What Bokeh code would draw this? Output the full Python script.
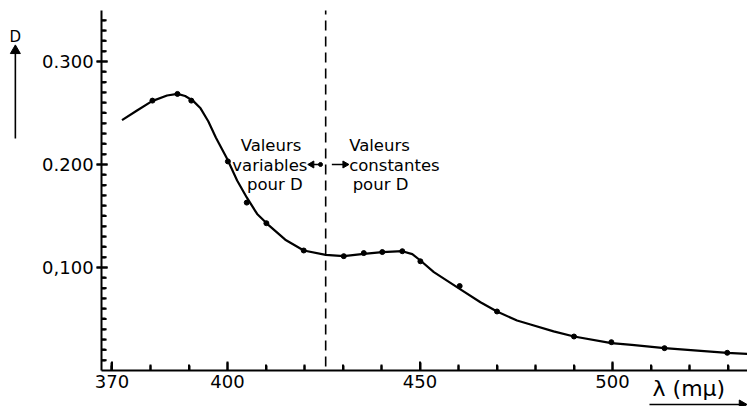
import math
from bokeh.plotting import figure
from bokeh.models import ColumnDataSource, Range1d, FixedTicker, Label
from bokeh.embed import file_html
from bokeh.resources import INLINE

# Absorption spectrum: optical density D versus wavelength (mμ)
curve_wl = [372.6, 376.5, 380.4, 384.3, 387.0, 389.0, 391.0, 393.0, 395.0,
            397.0, 399.9, 402.5, 405.0, 407.7, 410.3, 415.0, 419.8, 425.5,
            430.2, 435.4, 440.2, 445.4, 448.0, 450.1, 453.6, 460.3, 465.7,
            470.0, 475.2, 478.7, 484.7, 490.0, 499.7, 505.0, 513.5, 529.8,
            535.0]
curve_d = [0.2430, 0.2524, 0.2615, 0.2670, 0.2685, 0.2665, 0.2620, 0.2545,
           0.2420, 0.2260, 0.2055, 0.1845, 0.1680, 0.1520, 0.1424, 0.1270,
           0.1165, 0.1123, 0.1110, 0.1133, 0.1149, 0.1158, 0.1130, 0.1068,
           0.0955, 0.0793, 0.0663, 0.0573, 0.0485, 0.0447, 0.0380, 0.0330,
           0.0265, 0.0248, 0.0217, 0.0172, 0.0162]

# Measured points
point_wl = [380.5, 387.0, 390.6, 400.1, 405.0, 410.1, 419.8, 430.2, 435.4,
            440.2, 445.4, 450.1, 460.3, 470.0, 490.0, 499.7, 513.5, 529.8]
point_d = [0.262, 0.2685, 0.262, 0.203, 0.163, 0.143, 0.1165, 0.111, 0.114,
           0.115, 0.1158, 0.106, 0.082, 0.0573, 0.033, 0.0275, 0.0217, 0.0172]

# Axis ticks and their labels
x_major = [370, 400, 450, 500]
x_minor = [370, 380, 390, 410, 420, 430, 440, 460, 470, 480, 490, 510, 520, 530]
x_labels = ["370", "400", "450", "500"]
y_major = [0.100, 0.200, 0.300]
y_minor = [i / 100 for i in range(1, 35) if i % 10]
y_labels = ["0,100", "0.200", "0.300"]

# Boundary between variable and constant D
boundary_wl = 425.5

FONT = "DejaVu Sans"
X_AXIS_AT = 0.0      # D where the wavelength axis runs
Y_AXIS_AT = 367.3    # wavelength where the D axis runs
D_TOP = 0.3495       # upper end of the D axis
PX_X = 3.85          # pixels per mμ
PX_Y = 1030.0        # pixels per unit of D

p = figure(width=747, height=406, output_backend="svg", toolbar_location=None,
           x_range=Range1d(341.04, 535.06), y_range=Range1d(-0.03495, 0.3592),
           min_border=0)
p.grid.visible = False
p.outline_line_color = None
p.background_fill_color = "white"
p.border_fill_color = "white"

# wavelength axis
xa = p.xaxis[0]
xa.fixed_location = X_AXIS_AT
xa.bounds = (Y_AXIS_AT, 535.06)
xa.ticker = FixedTicker(ticks=x_major, minor_ticks=x_minor)
xa.major_label_overrides = dict(zip(x_major, x_labels))
xa.axis_line_width = 2
xa.axis_line_color = "black"
xa.major_tick_in = 8
xa.major_tick_out = 0
xa.minor_tick_in = 5
xa.minor_tick_out = 0
xa.major_tick_line_color = "black"
xa.minor_tick_line_color = "black"
xa.major_tick_line_width = 2
xa.minor_tick_line_width = 2
xa.major_label_standoff = 5
xa.major_label_text_font = FONT
xa.major_label_text_font_size = "18px"
xa.major_label_text_color = "black"

# D axis
ya = p.yaxis[0]
ya.fixed_location = Y_AXIS_AT
ya.bounds = (X_AXIS_AT, D_TOP)
ya.ticker = FixedTicker(ticks=y_major, minor_ticks=y_minor)
ya.major_label_overrides = dict(zip(y_major, y_labels))
ya.axis_line_width = 2
ya.axis_line_color = "black"
ya.major_tick_in = 6
ya.major_tick_out = 5
ya.minor_tick_in = 4
ya.minor_tick_out = 0
ya.major_tick_line_color = "black"
ya.minor_tick_line_color = "black"
ya.major_tick_line_width = 2
ya.minor_tick_line_width = 2
ya.major_label_standoff = 3
ya.major_label_text_font = FONT
ya.major_label_text_font_size = "18px"
ya.major_label_text_color = "black"

# tick marks as small filled bars at the tick values, drawn over the axes
def ticks_x(values, length_px):
    r = p.rect(x=values, y=[X_AXIS_AT + length_px / 2 / PX_Y] * len(values),
               width=2, height=length_px, width_units="screen",
               height_units="screen", fill_color="black", line_color=None)
    r.level = "overlay"

def ticks_y(values, in_px, out_px):
    centre = Y_AXIS_AT + (in_px - out_px) / 2 / PX_X
    r = p.rect(x=[centre] * len(values), y=values, width=in_px + out_px,
               height=2, width_units="screen", height_units="screen",
               fill_color="black", line_color=None)
    r.level = "overlay"

ticks_x(x_major, 9)
ticks_x(x_minor, 6)
ticks_y(y_major, 6, 5)
ticks_y(y_minor, 5, 0)

# curve and measurements
p.line(x="wl", y="d", source=ColumnDataSource(dict(wl=curve_wl, d=curve_d)),
       line_color="black", line_width=2.2)
p.scatter(x="wl", y="d", source=ColumnDataSource(dict(wl=point_wl, d=point_d)),
          size=5, color="black")

# dashed boundary, limited to the axis height
p.segment(x0=[boundary_wl], y0=[X_AXIS_AT + 0.004], x1=[boundary_wl], y1=[D_TOP],
          line_color="black", line_width=1.6, line_dash="10 6")

# text helper
def txt(x, y, s, align="center", size="16.5px"):
    p.add_layout(Label(x=x, y=y, text=s, text_align=align,
                       text_baseline="middle", text_font=FONT,
                       text_font_size=size, text_color="black"))

# arrow helper: shaft plus a triangular head
def arrow(x0, y0, x1, y1, head_at, angle, head=8, width=1.5):
    p.segment(x0=[x0], y0=[y0], x1=[x1], y1=[y1], line_color="black",
              line_width=width)
    p.scatter(x=[head_at[0]], y=[head_at[1]], marker="triangle", size=head,
              angle=angle, color="black")

# region annotations
txt(411.3, 0.218, "Valeurs")
txt(411.0, 0.199, "variables")
txt(412.3, 0.181, "pour D")
txt(431.6, 0.218, "Valeurs", align="left")
txt(431.6, 0.199, "constantes", align="left")
txt(432.5, 0.181, "pour D", align="left")

arrow(424.16, 0.200, 422.3, 0.200, (421.9, 0.200), math.pi / 2, head=7)
p.scatter(x=[424.16], y=[0.200], size=4, color="black")
arrow(427.1, 0.200, 430.0, 0.200, (430.5, 0.200), -math.pi / 2, head=7)

# axis titles with arrows
txt(344.9, 0.3233, "D", size="15px")
arrow(344.9, 0.2252, 344.9, 0.3097, (344.9, 0.3105), 0, head=10, width=1.6)
txt(510.4, -0.0175, "λ (mμ)", align="left", size="22px")
arrow(509.6, -0.0330, 533.0, -0.0330, (533.6, -0.0330), -math.pi / 2,
      head=9, width=1.6)

open("out.html", "w").write(file_html(p, INLINE))
